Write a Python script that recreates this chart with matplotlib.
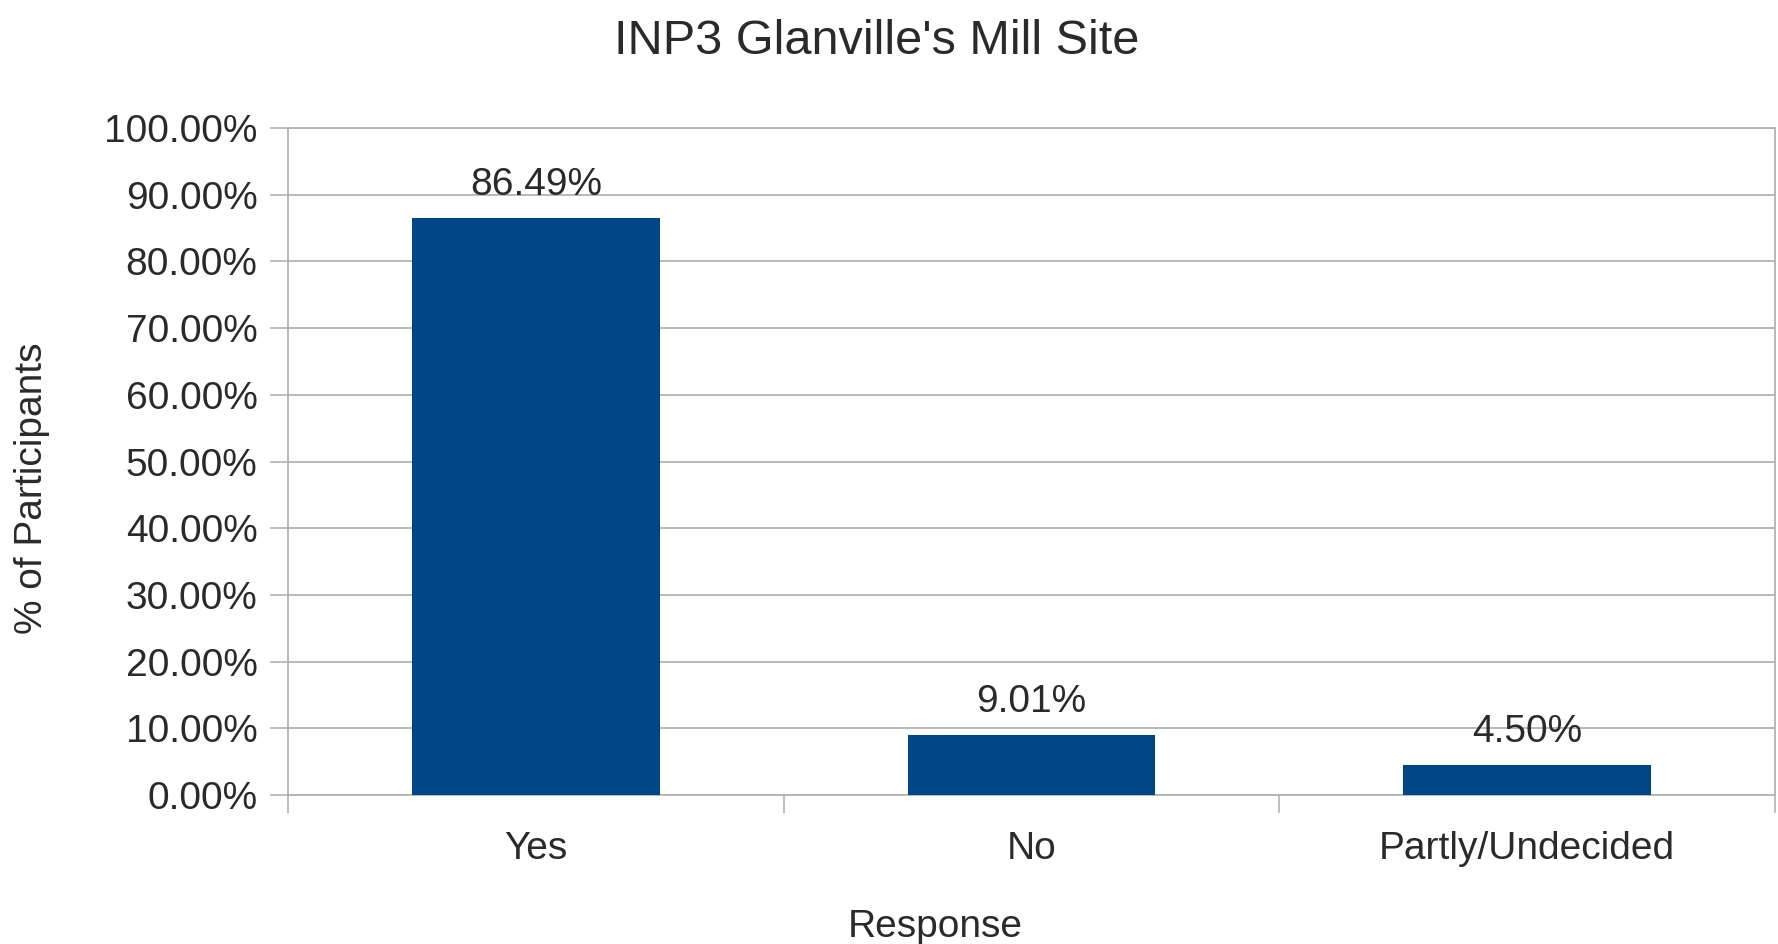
import matplotlib
matplotlib.use("Agg")
import matplotlib.pyplot as plt
from matplotlib.ticker import FuncFormatter, FixedLocator

categories = ["Yes", "No", "Partly/Undecided"]
values = [86.49, 9.01, 4.50]
yticks = [0, 10, 20, 30, 40, 50, 60, 70, 80, 90, 100]

plt.rcParams['font.family'] = ['Liberation Sans', 'DejaVu Sans']
txt = '#2a2a2a'
grid_c = '#b3b3b3'

fig = plt.figure(figsize=(17.78, 9.44), dpi=100)
ax = fig.add_axes([288/1778, 1-795/944, (1775-288)/1778, (795-128)/944])

x = list(range(len(categories)))
ax.bar(x, values, width=0.5, color='#004586', zorder=3)

ax.set_xlim(-0.5, len(categories)-0.5)
ax.set_ylim(0, 100)
ax.set_yticks(yticks)
ax.yaxis.set_major_formatter(FuncFormatter(lambda v, p: f"{v:.2f}%"))
ax.set_xticks(x)
ax.set_xticklabels(categories)
ax.xaxis.set_minor_locator(FixedLocator([i - 0.5 for i in range(len(categories)+1)]))
ax.tick_params(axis='x', which='major', length=0, labelsize=28, labelcolor=txt, pad=26)
ax.tick_params(axis='x', which='minor', length=13, width=1.2, color=grid_c, direction='out')
ax.tick_params(axis='y', which='major', length=13, width=1.2, color=grid_c, direction='out',
               labelsize=28, labelcolor=txt, pad=9)

ax.yaxis.grid(True, color=grid_c, linewidth=1.3, zorder=0)
ax.set_axisbelow(True)
for s in ax.spines.values():
    s.set_color(grid_c)
    s.set_linewidth(1.3)

for xi, v in zip(x, values):
    ax.annotate(f"{v:.2f}%", (xi, v), xytext=(0, 11), textcoords='offset points',
                ha='center', va='bottom', fontsize=28, color=txt)

fig.text(877/1778, 1-41/944, "INP3 Glanville's Mill Site", ha='center', va='center',
         fontsize=35, color=txt)
fig.text(935/1778, 1-927/944, "Response", ha='center', va='center', fontsize=28, color=txt)
fig.text(32/1778, 1-488/944, "% of Participants", ha='center', va='center', rotation=90,
         fontsize=28, color=txt)

fig.savefig("out.png", dpi=100, facecolor='white')
